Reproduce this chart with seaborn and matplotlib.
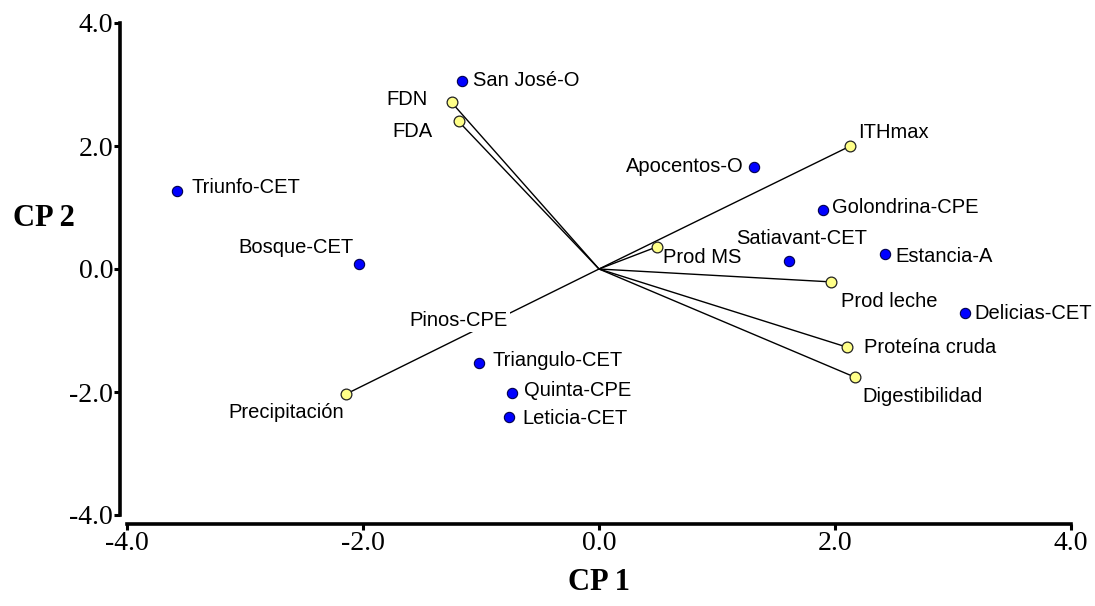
import matplotlib
matplotlib.use("Agg")
import matplotlib.pyplot as plt
import seaborn as sns
import pandas as pd

# ---- data ----
site_names = ["San José-O", "Triunfo-CET", "Bosque-CET", "Apocentos-O", "Golondrina-CPE",
              "Satiavant-CET", "Estancia-A", "Delicias-CET", "Triangulo-CET", "Quinta-CPE",
              "Leticia-CET", "Pinos-CPE"]
site_x = [-1.16, -3.58, -2.03, 1.31, 1.90, 1.61, 2.42, 3.10, -1.02, -0.74, -0.76, -1.19]
site_y = [3.06, 1.27, 0.08, 1.66, 0.96, 0.13, 0.24, -0.71, -1.53, -2.02, -2.40, -0.83]

var_names = ["FDN", "FDA", "ITHmax", "Prod MS", "Prod leche", "Proteína cruda",
             "Digestibilidad", "Precipitación"]
var_x = [-1.25, -1.19, 2.13, 0.49, 1.97, 2.10, 2.17, -2.14]
var_y = [2.71, 2.40, 2.00, 0.36, -0.21, -1.27, -1.76, -2.03]

x_ticks = [-4.0, -2.0, 0.0, 2.0, 4.0]
y_ticks = [-4.0, -2.0, 0.0, 2.0, 4.0]

# ---- label placement (pixels offset, alignment) ----
site_lab = {
    "San José-O": (11, 0, "left"), "Triunfo-CET": (15, 3, "left"),
    "Bosque-CET": (-6, 17, "right"), "Apocentos-O": (-10, 0, "right"),
    "Golondrina-CPE": (9, 2, "left"), "Satiavant-CET": (13, 23, "center"),
    "Estancia-A": (11, -2, "left"), "Delicias-CET": (10, -1, "left"),
    "Triangulo-CET": (14, 3, "left"), "Quinta-CPE": (12, 3, "left"),
    "Leticia-CET": (13, -2, "left"), "Pinos-CPE": (0, 0, "center"),
}
var_lab = {
    "FDN": (-24, 3, "right"), "FDA": (-26, -10, "right"), "ITHmax": (8, 13, "left"),
    "Prod MS": (6, -11, "left"), "Prod leche": (10, -20, "left"),
    "Proteína cruda": (17, 0, "left"), "Digestibilidad": (7, -19, "left"),
    "Precipitación": (-2, -19, "right"),
}

sites = pd.DataFrame({"name": site_names, "x": site_x, "y": site_y})
vars_ = pd.DataFrame({"name": var_names, "x": var_x, "y": var_y})

sns.set_theme(style="white")
plt.rcParams["axes.unicode_minus"] = False

fig = plt.figure(figsize=(10.95, 6.06), dpi=100)
ax = fig.add_axes([127 / 1095, 1 - 515 / 606, (1071 - 127) / 1095, (515 - 23) / 606])

# vectors
for _, r in vars_.iterrows():
    ax.plot([0, r.x], [0, r.y], color="black", lw=1.0, zorder=1)

# site points
sns.scatterplot(data=sites[sites.name != "Pinos-CPE"], x="x", y="y", ax=ax, s=55,
                color="#0000ff", edgecolor="#00004d", linewidth=0.8, zorder=3, legend=False)
sns.scatterplot(data=sites[sites.name == "Pinos-CPE"], x="x", y="y", ax=ax, s=55,
                color="#0000ff", edgecolor="#00004d", linewidth=0.8, zorder=2, legend=False)
# variable points
sns.scatterplot(data=vars_, x="x", y="y", ax=ax, s=60,
                color="#ffff88", edgecolor="#222222", linewidth=0.9, zorder=3, legend=False)

lab_font = dict(family="Liberation Sans", size=14.5, color="black")
for _, r in sites.iterrows():
    dx, dy, ha = site_lab[r["name"]]
    kw = {}
    if r["name"] == "Pinos-CPE":
        kw["bbox"] = dict(facecolor="white", edgecolor="none", pad=1.5)
    ax.annotate(r["name"], (r.x, r.y), xytext=(dx, dy), textcoords="offset pixels",
                ha=ha, va="center", zorder=4, **lab_font, **kw)
for _, r in vars_.iterrows():
    dx, dy, ha = var_lab[r["name"]]
    ax.annotate(r["name"], (r.x, r.y), xytext=(dx, dy), textcoords="offset pixels",
                ha=ha, va="center", zorder=4, **lab_font)

ax.set_xlim(-4, 4)
ax.set_ylim(-4, 4)
ax.set_xticks(x_ticks)
ax.set_yticks(y_ticks)
ax.set_xticklabels([f"{t:.1f}" for t in x_ticks])
ax.set_yticklabels([f"{t:.1f}" for t in y_ticks])

for side in ["top", "right"]:
    ax.spines[side].set_visible(False)
ax.spines["left"].set_position(("outward", 5))
ax.spines["bottom"].set_position(("outward", 6.5))
ax.spines["left"].set_bounds(-4, 4)
ax.spines["bottom"].set_bounds(-4, 4)
for side in ["left", "bottom"]:
    ax.spines[side].set_linewidth(2.6)
    ax.spines[side].set_color("black")

ax.tick_params(axis="both", direction="out", length=4, width=2.2, color="black",
               pad=1, labelsize=20, labelcolor="black", bottom=True, left=True)
for lab in ax.get_xticklabels() + ax.get_yticklabels():
    lab.set_fontfamily("Liberation Serif")

ax.set_xlabel("")
ax.set_ylabel("")
fig.text(599 / 1095, 1 - 583 / 606, "CP 1", ha="center", va="center", color="black",
         family="Liberation Serif", weight="bold", size=22)
fig.text(44 / 1095, 1 - 218 / 606, "CP 2", ha="center", va="center", color="black",
         family="Liberation Serif", weight="bold", size=22)

ax.set_facecolor("white")
fig.patch.set_facecolor("white")
fig.savefig("out.png", dpi=100)
